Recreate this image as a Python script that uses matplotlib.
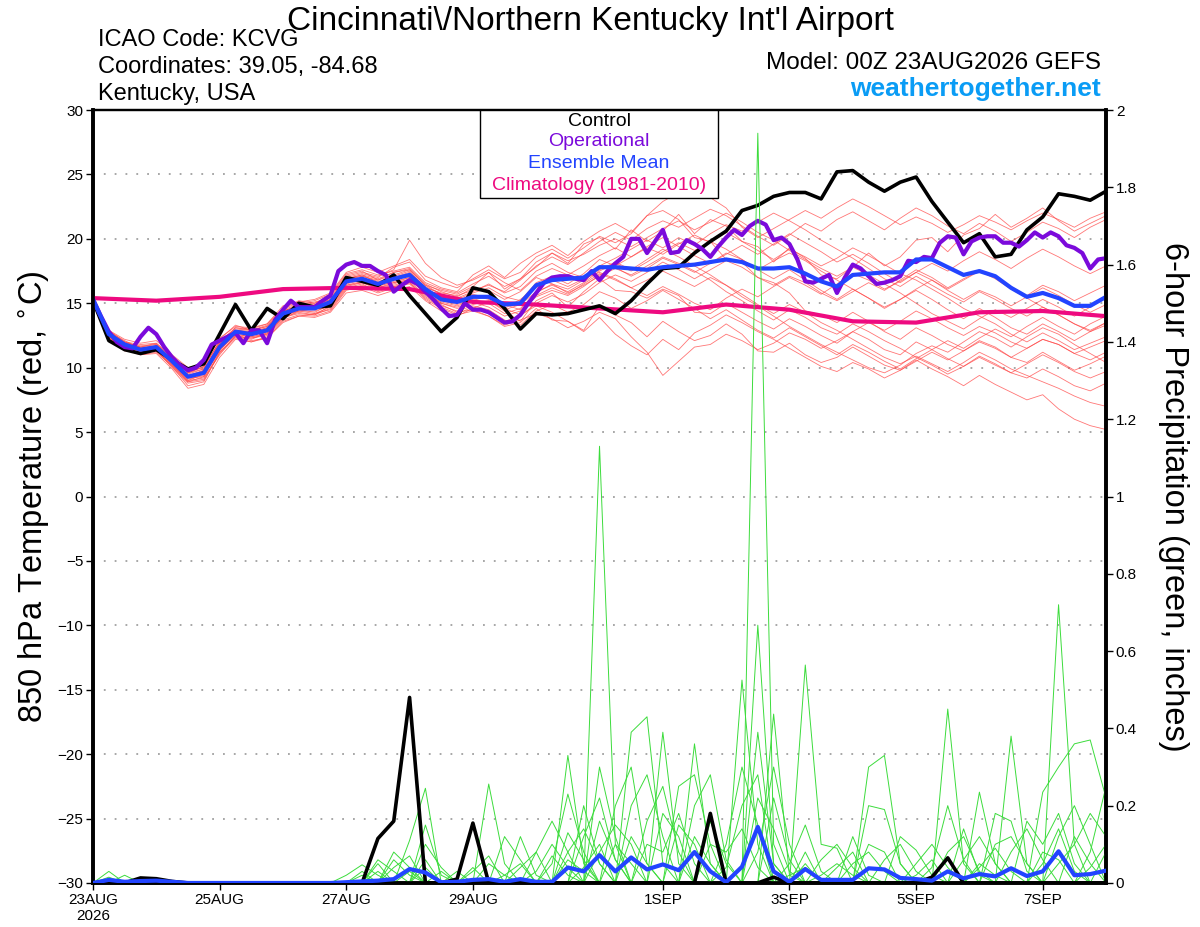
import numpy as np
import matplotlib
matplotlib.use('Agg')
import matplotlib.pyplot as plt
from matplotlib.patches import Rectangle

plt.rcParams['font.family'] = ['Liberation Sans', 'DejaVu Sans']

# ========== Data ==========
HOURS6 = np.arange(0, 385, 6)     # forecast hour, 6-hourly
HOURS3 = np.arange(0, 385, 3)     # operational run is 3-hourly
HOURS24 = np.arange(0, 385, 24)   # climatology, daily

tick_hours = [0, 48, 96, 144, 216, 264, 312, 360]
tick_labels = ['23AUG\n2026', '25AUG', '27AUG', '29AUG', '1SEP', '3SEP', '5SEP', '7SEP']

control_t = [15.2, 12.1, 11.4, 11.1, 11.4, 10.6, 9.9, 10.3, 12.6, 14.9, 12.9, 14.6,
             13.8, 15.0, 14.7, 14.8, 17.0, 16.7, 16.4, 17.2, 15.6, 14.2, 12.8, 13.9,
             16.2, 15.9, 14.6, 13.0, 14.2, 14.1, 14.2, 14.5, 14.8, 14.2, 15.2, 16.5,
             17.7, 17.8, 18.9, 19.8, 20.6, 22.2, 22.6, 23.3, 23.6, 23.6, 23.1, 25.2,
             25.3, 24.4, 23.7, 24.4, 24.8, 22.9, 21.3, 19.7, 20.4, 18.6, 18.8, 20.7,
             21.7, 23.5, 23.3, 23.0, 23.7]

oper_t = [15.3, 14.0, 12.8, 12.0, 11.6, 11.5, 12.4, 13.1,
          12.6, 11.6, 10.8, 10.2, 9.8, 10.0, 10.6, 11.8,
          12.1, 12.4, 12.7, 11.9, 12.9, 12.9, 11.9, 13.7,
          14.5, 15.2, 14.7, 14.7, 14.7, 15.2, 15.6, 17.5,
          18.0, 18.2, 17.9, 17.9, 17.5, 17.2, 15.9, 16.4,
          16.8, 16.5, 15.9, 15.3, 14.6, 14.0, 14.1, 15.0,
          14.5, 14.5, 14.3, 13.9, 13.5, 13.6, 14.1, 15.0,
          15.8, 16.6, 17.0, 17.1, 17.1, 16.9, 16.8, 17.5,
          16.8, 17.5, 18.1, 18.6, 20.0, 20.0, 18.9, 19.8,
          20.7, 18.9, 19.0, 19.9, 19.6, 19.2, 18.6, 19.4,
          20.1, 20.7, 20.3, 21.0, 21.4, 21.1, 19.9, 20.1,
          19.6, 18.4, 16.7, 16.6, 16.9, 17.2, 15.8, 17.0,
          18.0, 17.7, 17.1, 16.5, 16.6, 16.8, 17.1, 18.3,
          18.2, 18.6, 18.5, 19.7, 20.2, 20.1, 18.8, 19.8,
          20.1, 20.2, 20.2, 19.7, 19.7, 19.4, 19.9, 20.5,
          20.1, 20.5, 20.2, 19.5, 19.3, 18.9, 17.7, 18.4,
          18.5]

mean_t = [15.3, 12.6, 11.8, 11.4, 11.6, 10.5, 9.3, 9.6, 11.6, 12.8, 12.6, 12.9,
          14.2, 14.6, 14.6, 15.1, 16.7, 16.9, 16.5, 16.9, 17.2, 16.1, 15.3, 15.1,
          15.5, 15.5, 14.9, 15.0, 16.4, 16.8, 16.9, 17.0, 17.8, 17.8, 17.7, 17.6,
          17.8, 17.9, 18.0, 18.2, 18.4, 18.2, 17.7, 17.7, 17.8, 17.3, 16.7, 16.3,
          17.2, 17.3, 17.4, 17.4, 18.4, 18.4, 17.8, 17.2, 17.5, 17.1, 16.2, 15.5,
          15.8, 15.4, 14.8, 14.8, 15.5]

clim_t = [15.4, 15.2, 15.5, 16.1, 16.2, 16.1, 15.1, 14.9, 14.6, 14.3, 14.9,
          14.5, 13.6, 13.5, 14.3, 14.4, 14.0]

member_t = [
    [15.2, 12.9, 12.0, 11.8, 11.9, 10.9, 9.6, 10.1, 12.0, 13.1, 13.0, 13.4, 14.6, 15.2, 15.0, 15.6,
     17.2, 17.5, 16.8, 17.4, 17.6, 16.4, 16.0, 15.7, 16.3, 17.4, 16.1, 16.9, 17.8, 18.9, 18.1, 19.6,
     20.1, 19.2, 20.7, 19.8, 20.6, 21.9, 20.4, 21.5, 21.0, 19.8, 19.4, 18.2, 19.3, 18.5, 17.2, 16.9,
     17.8, 18.9, 17.9, 18.6, 19.9, 20.1, 19.0, 20.3, 20.8, 21.9, 20.9, 21.6, 22.4, 21.4, 20.6, 21.2, 21.8],
    [15.2, 12.4, 11.5, 11.0, 11.2, 10.1, 8.6, 8.9, 11.2, 12.4, 12.1, 12.3, 13.6, 14.0, 14.2, 14.5,
     16.1, 16.4, 16.0, 16.3, 16.5, 15.3, 14.6, 14.1, 14.4, 14.0, 13.2, 13.5, 14.6, 13.7, 13.6, 12.9,
     14.8, 14.1, 13.5, 12.4, 13.6, 12.8, 12.1, 12.5, 13.4, 12.6, 11.3, 11.2, 11.9, 11.0, 10.4, 10.8,
     11.6, 10.9, 10.2, 9.8, 10.6, 9.9, 9.3, 8.6, 9.4, 8.7, 8.1, 7.5, 7.9, 6.8, 6.0, 5.5, 5.2],
    [15.2, 12.7, 11.9, 11.6, 11.8, 10.6, 9.8, 10.4, 12.2, 13.3, 12.9, 13.2, 14.3, 14.9, 15.1, 15.4,
     17.0, 17.3, 17.0, 17.8, 18.2, 16.8, 16.2, 15.9, 17.2, 17.9, 17.0, 18.1, 18.9, 19.5, 18.7, 19.8,
     20.6, 21.2, 20.5, 21.8, 22.2, 21.5, 20.1, 19.8, 18.4, 18.2, 17.0, 16.6, 15.8, 14.4, 14.1, 13.5,
     14.3, 13.6, 12.8, 12.2, 13.1, 12.5, 11.8, 11.3, 12.1, 11.6, 10.8, 10.4, 11.2, 10.5, 9.8, 10.3, 10.9],
    [15.2, 12.2, 11.3, 11.2, 11.3, 10.2, 9.0, 9.2, 11.0, 12.5, 12.2, 12.7, 13.9, 14.3, 14.1, 14.8,
     16.4, 16.7, 16.2, 16.5, 16.9, 15.9, 15.0, 14.6, 14.9, 15.2, 14.4, 13.6, 15.2, 15.8, 14.7, 15.9,
     16.9, 16.0, 15.9, 15.4, 16.1, 15.6, 14.3, 14.2, 15.0, 14.3, 13.6, 13.0, 13.8, 13.2, 12.5, 11.9,
     12.8, 12.2, 11.4, 11.0, 12.0, 11.4, 10.7, 10.1, 10.9, 10.3, 9.6, 9.2, 9.9, 9.3, 8.6, 8.2, 8.8],
    [15.2, 12.8, 12.1, 11.5, 11.6, 10.4, 9.5, 9.9, 11.8, 12.9, 12.8, 13.1, 14.4, 14.8, 14.9, 15.3,
     16.9, 17.2, 16.6, 17.1, 17.5, 16.2, 15.8, 15.6, 16.0, 16.4, 15.9, 16.8, 17.9, 18.6, 18.0, 18.9,
     19.8, 20.5, 19.9, 20.8, 21.4, 20.9, 21.6, 22.3, 21.8, 21.0, 20.2, 19.5, 20.3, 21.2, 20.6, 21.5,
     22.1, 21.4, 20.7, 21.6, 22.4, 21.8, 21.0, 20.4, 21.2, 20.6, 19.8, 20.5, 21.3, 20.8, 20.1, 20.9, 21.5],
    [15.2, 12.5, 11.7, 11.3, 11.7, 10.3, 9.1, 9.4, 11.4, 12.6, 12.4, 12.6, 14.0, 14.5, 14.3, 14.9,
     16.5, 16.8, 16.3, 16.7, 17.0, 16.1, 15.2, 14.9, 15.3, 15.0, 14.2, 14.6, 15.8, 16.5, 16.1, 16.8,
     17.6, 18.2, 17.6, 18.4, 19.2, 18.6, 17.9, 17.2, 16.4, 15.5, 14.8, 14.0, 13.2, 12.5, 11.8, 11.2,
     10.6, 10.0, 9.6, 10.2, 11.1, 11.7, 11.2, 12.0, 12.8, 12.3, 11.6, 12.4, 13.1, 12.6, 11.8, 11.1, 10.4],
    [15.2, 12.6, 11.8, 11.4, 11.5, 10.6, 9.4, 9.7, 11.7, 12.8, 12.7, 13.0, 14.2, 14.7, 14.5, 15.0,
     16.6, 16.9, 16.4, 16.8, 17.2, 16.0, 15.6, 15.3, 15.8, 16.2, 15.5, 15.2, 16.6, 17.1, 16.5, 17.3,
     18.4, 17.9, 18.6, 19.3, 18.8, 19.6, 20.3, 19.7, 20.5, 19.8, 19.1, 18.4, 19.2, 18.6, 17.9, 18.5,
     19.3, 18.7, 18.0, 17.3, 16.8, 16.1, 15.4, 14.6, 14.0, 13.4, 12.6, 12.0, 12.7, 12.1, 11.4, 11.9, 12.4],
    [15.2, 12.3, 11.6, 11.1, 11.4, 10.0, 8.8, 9.0, 11.1, 12.3, 12.0, 12.4, 13.7, 14.1, 14.0, 14.4,
     16.0, 16.3, 15.8, 16.2, 16.6, 15.5, 14.8, 14.4, 14.8, 14.5, 13.7, 13.3, 14.4, 14.9, 14.3, 14.9,
     15.9, 15.4, 14.6, 15.2, 16.0, 15.3, 14.6, 13.8, 14.5, 13.7, 12.9, 12.3, 13.1, 12.4, 11.7, 11.0,
     11.8, 11.2, 10.5, 9.9, 10.7, 11.4, 12.1, 11.5, 12.3, 13.0, 12.4, 13.2, 13.9, 13.2, 12.6, 13.4, 14.0],
    [15.2, 12.8, 11.9, 11.7, 11.8, 10.8, 9.7, 10.0, 12.1, 13.0, 12.9, 13.3, 14.5, 14.9, 15.0, 15.5,
     17.1, 17.4, 17.1, 17.6, 19.9, 18.1, 17.0, 16.4, 16.8, 17.4, 16.6, 16.0, 17.1, 17.7, 17.2, 17.9,
     18.7, 19.3, 18.6, 19.4, 20.1, 19.4, 18.7, 18.1, 18.9, 18.4, 17.6, 16.9, 17.6, 16.8, 16.0, 15.3,
     16.1, 15.4, 14.6, 15.3, 16.0, 15.3, 14.5, 13.8, 14.6, 13.9, 13.1, 12.6, 13.4, 12.8, 12.1, 12.8, 13.5],
    [15.2, 12.4, 11.6, 11.3, 11.4, 10.4, 9.2, 9.3, 11.3, 12.7, 12.5, 12.8, 14.1, 14.4, 14.6, 15.0,
     16.7, 16.8, 16.4, 16.6, 17.0, 15.7, 15.0, 14.7, 15.1, 14.7, 14.0, 14.4, 15.5, 16.0, 15.6, 16.3,
     17.2, 17.8, 17.1, 17.7, 18.5, 18.0, 17.4, 18.1, 18.8, 19.5, 18.8, 19.6, 20.4, 19.7, 19.0, 18.2,
     18.8, 18.1, 17.3, 16.6, 17.4, 18.1, 17.5, 18.3, 19.0, 18.4, 17.7, 18.5, 19.2, 18.6, 17.9, 17.3, 17.9],
    [15.2, 12.7, 11.8, 11.5, 11.7, 10.5, 9.4, 9.8, 11.9, 12.9, 12.6, 12.9, 14.3, 14.6, 14.8, 15.2,
     16.8, 17.1, 16.7, 17.0, 17.4, 16.3, 15.7, 15.4, 15.9, 16.5, 15.8, 16.3, 17.5, 18.1, 17.4, 17.0,
     17.9, 18.5, 19.2, 19.9, 19.3, 20.1, 19.5, 20.4, 21.1, 20.6, 21.3, 22.0, 21.4, 20.7, 19.9, 19.2,
     18.5, 17.7, 16.9, 16.3, 17.1, 16.4, 15.7, 15.1, 15.9, 15.3, 14.6, 14.0, 14.7, 14.1, 13.4, 12.8, 13.3],
    [15.2, 12.5, 11.7, 11.2, 11.3, 10.1, 8.9, 9.1, 11.2, 12.4, 12.3, 12.6, 13.8, 14.4, 14.2, 14.7,
     16.3, 16.6, 16.1, 16.4, 16.7, 15.6, 14.9, 14.3, 14.5, 14.0, 13.3, 13.7, 14.2, 13.8, 13.1, 13.6,
     14.3, 13.8, 12.4, 11.2, 9.4, 10.5, 11.6, 11.8, 12.6, 12.1, 11.4, 11.9, 12.7, 12.2, 11.5, 12.1,
     12.8, 13.5, 12.9, 13.6, 14.4, 13.8, 13.1, 12.5, 13.2, 12.7, 12.0, 11.5, 12.2, 11.8, 11.1, 11.6, 12.1],
    [15.2, 12.6, 11.9, 11.6, 11.9, 10.7, 9.6, 9.9, 11.8, 13.1, 12.9, 13.2, 14.6, 15.0, 15.2, 15.7,
     17.3, 17.6, 17.2, 17.5, 17.8, 16.6, 16.1, 15.8, 16.5, 17.1, 16.3, 16.9, 18.2, 18.9, 18.3, 18.8,
     19.5, 20.0, 19.4, 20.1, 20.8, 21.4, 20.7, 21.3, 22.0, 21.3, 20.5, 19.9, 19.1, 18.4, 17.7, 17.1,
     17.8, 17.2, 16.5, 15.8, 15.0, 14.2, 13.6, 13.0, 13.8, 14.5, 13.9, 14.6, 15.3, 14.7, 14.0, 14.7, 15.4],
    [15.2, 12.3, 11.4, 11.0, 11.1, 9.9, 8.4, 8.7, 10.8, 12.2, 12.0, 12.3, 13.5, 14.0, 13.9, 14.3,
     15.8, 16.0, 15.6, 16.0, 16.3, 15.2, 14.4, 14.0, 14.6, 15.1, 14.6, 15.3, 16.2, 16.8, 16.3, 16.9,
     17.4, 16.9, 16.2, 16.8, 17.5, 16.9, 16.3, 17.0, 16.4, 15.7, 14.9, 14.2, 14.9, 14.3, 13.5, 12.9,
     12.2, 11.5, 10.8, 10.3, 10.9, 10.3, 9.7, 10.4, 11.2, 10.6, 9.9, 9.4, 8.9, 8.4, 7.8, 7.3, 7.0],
    [15.2, 12.9, 12.2, 11.9, 12.1, 11.0, 10.0, 10.3, 12.3, 13.2, 13.1, 13.4, 14.8, 15.1, 15.3, 15.8,
     17.4, 17.8, 17.4, 17.9, 18.4, 17.1, 16.6, 16.2, 16.9, 17.6, 16.9, 17.4, 18.6, 19.2, 18.5, 19.3,
     20.2, 19.7, 20.4, 21.8, 22.9, 23.6, 24.1, 23.2, 22.4, 20.9, 20.1, 20.8, 21.5, 22.2, 21.6, 22.4,
     23.1, 22.5, 21.8, 21.1, 21.7, 21.2, 20.5, 21.1, 21.8, 21.3, 20.7, 21.4, 22.0, 21.5, 20.9, 21.6, 22.1],
    [15.2, 12.5, 11.6, 11.3, 11.5, 10.3, 9.0, 9.5, 11.5, 12.6, 12.4, 12.7, 14.0, 14.4, 14.4, 14.8,
     16.4, 16.6, 16.2, 16.6, 16.8, 15.8, 15.1, 14.8, 15.2, 15.6, 14.9, 14.5, 15.6, 16.2, 15.7, 16.5,
     17.3, 16.8, 16.2, 15.6, 16.3, 15.7, 15.0, 14.5, 15.4, 16.1, 15.5, 16.3, 17.0, 16.4, 15.7, 16.5,
     17.3, 16.8, 16.1, 16.7, 17.4, 16.8, 16.0, 15.3, 16.0, 15.5, 14.8, 15.5, 16.2, 15.6, 14.9, 14.3, 14.9],
    [15.2, 12.7, 12.0, 11.6, 11.6, 10.7, 9.6, 10.1, 12.0, 12.9, 12.7, 13.1, 14.4, 14.7, 14.8, 15.3,
     16.9, 17.2, 16.9, 17.4, 17.7, 16.5, 15.9, 15.5, 16.2, 16.0, 15.3, 15.9, 17.0, 16.5, 15.8, 16.4,
     17.1, 17.7, 17.2, 17.9, 18.6, 18.1, 17.5, 16.8, 15.9, 15.2, 14.4, 13.7, 14.5, 13.9, 13.1, 12.6,
     13.4, 12.8, 12.1, 11.5, 10.8, 10.2, 9.5, 10.1, 10.8, 10.2, 9.6, 10.3, 11.0, 10.4, 9.7, 9.2, 9.7],
    [15.2, 12.4, 11.5, 11.2, 11.4, 10.2, 8.9, 9.3, 11.4, 12.5, 12.3, 12.5, 13.9, 14.2, 14.1, 14.6,
     16.2, 16.5, 15.9, 16.3, 16.6, 15.4, 14.7, 14.2, 14.7, 14.3, 13.6, 14.0, 15.0, 15.6, 15.1, 15.7,
     16.6, 17.2, 16.7, 17.4, 18.2, 17.6, 16.9, 17.6, 18.3, 17.8, 17.0, 16.4, 17.1, 16.6, 15.8, 15.2,
     15.9, 16.6, 16.0, 16.8, 17.6, 17.0, 16.2, 16.9, 17.5, 16.9, 16.1, 15.4, 14.7, 14.1, 13.4, 12.9, 13.5],
    [15.2, 12.6, 11.7, 11.4, 11.6, 10.4, 9.3, 9.6, 11.6, 12.8, 12.5, 12.8, 14.2, 14.5, 14.7, 15.1,
     16.6, 17.0, 16.5, 16.9, 17.3, 16.1, 15.5, 15.0, 15.6, 15.3, 14.5, 14.9, 15.9, 16.4, 15.9, 16.6,
     17.5, 18.1, 17.5, 18.2, 19.0, 19.7, 19.1, 19.8, 19.2, 18.4, 17.6, 18.3, 18.9, 18.3, 17.5, 16.8,
     16.1, 15.4, 14.7, 15.3, 16.1, 16.8, 16.1, 16.8, 17.5, 17.0, 16.3, 15.6, 16.4, 15.9, 15.2, 15.8, 16.4],
    [15.2, 12.8, 12.0, 11.5, 11.7, 10.6, 9.3, 9.8, 11.9, 12.9, 12.8, 13.0, 14.4, 14.8, 14.7, 15.2,
     16.9, 17.1, 16.8, 17.2, 17.6, 16.4, 15.7, 15.2, 15.7, 15.4, 14.6, 14.1, 14.8, 14.3, 13.6, 12.8,
     13.9, 12.6, 11.7, 11.0, 12.2, 11.4, 12.7, 13.3, 14.1, 13.5, 12.8, 12.2, 11.5, 10.8, 10.1, 9.7,
     10.4, 9.9, 9.2, 9.8, 10.5, 11.2, 10.6, 11.3, 12.0, 11.5, 10.8, 11.5, 12.2, 11.8, 11.1, 10.6, 11.2],
]

# 6-hour precipitation (inches); nonzero amounts keyed by forecast hour
control_p = {18: 0.013, 24: 0.011, 30: 0.004, 108: 0.115, 114: 0.16, 120: 0.48,
             138: 0.01, 144: 0.155, 234: 0.18, 258: 0.015, 318: 0.015, 324: 0.065}

mean_p = {6: 0.008, 12: 0.003, 18: 0.005, 24: 0.006, 30: 0.003, 96: 0.002, 102: 0.004,
          108: 0.006, 114: 0.01, 120: 0.036, 126: 0.027, 132: 0.002, 138: 0.003,
          144: 0.008, 150: 0.01, 156: 0.003, 162: 0.01, 168: 0.003, 174: 0.003,
          180: 0.04, 186: 0.03, 192: 0.072, 198: 0.03, 204: 0.066, 210: 0.035,
          216: 0.048, 222: 0.033, 228: 0.08, 234: 0.03, 240: 0.002, 246: 0.042,
          252: 0.145, 258: 0.03, 264: 0.003, 270: 0.036, 276: 0.008, 282: 0.008,
          288: 0.008, 294: 0.038, 300: 0.035, 306: 0.013, 312: 0.01, 318: 0.006,
          324: 0.03, 330: 0.012, 336: 0.023, 342: 0.017, 348: 0.038, 354: 0.018,
          360: 0.03, 366: 0.082, 372: 0.02, 378: 0.023, 384: 0.032}

member_p = [
    {6: 0.03, 120: 0.11, 126: 0.245, 192: 1.13, 198: 0.1, 270: 0.05, 324: 0.45, 330: 0.05},
    {102: 0.03, 114: 0.06, 120: 0.02, 150: 0.256, 156: 0.05, 252: 1.94, 258: 0.1, 366: 0.72, 372: 0.1},
    {108: 0.05, 126: 0.15, 132: 0.02, 180: 0.33, 186: 0.05, 246: 0.525, 252: 0.1, 294: 0.30,
     300: 0.33, 306: 0.05},
    {96: 0.02, 102: 0.047, 108: 0.02, 162: 0.12, 168: 0.02, 204: 0.39, 210: 0.43, 216: 0.05,
     252: 0.667, 258: 0.05, 348: 0.38, 354: 0.05},
    {114: 0.08, 120: 0.04, 186: 0.2, 192: 0.05, 216: 0.39, 222: 0.05, 258: 0.437, 264: 0.02,
     360: 0.235, 366: 0.30, 372: 0.36, 378: 0.37, 384: 0.22},
    {12: 0.02, 108: 0.03, 144: 0.03, 150: 0.07, 198: 0.2, 204: 0.3, 210: 0.05, 270: 0.564,
     276: 0.1, 282: 0.09, 336: 0.235, 342: 0.05},
    {126: 0.06, 174: 0.05, 180: 0.23, 186: 0.08, 228: 0.36, 234: 0.05, 252: 0.39, 258: 0.05,
     294: 0.2, 300: 0.19, 306: 0.05, 342: 0.18, 348: 0.16, 354: 0.03},
    {102: 0.02, 168: 0.08, 174: 0.16, 180: 0.08, 222: 0.25, 228: 0.28, 234: 0.1, 288: 0.12,
     294: 0.02, 330: 0.14, 336: 0.02, 378: 0.08, 384: 0.25},
    {144: 0.04, 156: 0.12, 162: 0.06, 192: 0.16, 198: 0.06, 216: 0.18, 222: 0.12, 240: 0.04,
     246: 0.2, 252: 0.28, 306: 0.12, 312: 0.085, 318: 0.02, 354: 0.16, 360: 0.1, 366: 0.18, 372: 0.05},
    {6: 0.015, 180: 0.13, 186: 0.06, 204: 0.2, 210: 0.28, 216: 0.12, 264: 0.05, 270: 0.15,
     276: 0.03, 318: 0.04, 324: 0.2, 330: 0.06, 366: 0.12, 372: 0.2, 378: 0.1},
    {114: 0.04, 120: 0.07, 138: 0.03, 186: 0.12, 192: 0.22, 198: 0.06, 234: 0.16, 240: 0.05,
     282: 0.04, 288: 0.08, 342: 0.1, 348: 0.12, 354: 0.05},
    {126: 0.1, 132: 0.04, 168: 0.03, 174: 0.1, 180: 0.04, 210: 0.16, 216: 0.25, 222: 0.08,
     252: 0.22, 258: 0.14, 264: 0.03, 300: 0.06, 306: 0.1, 312: 0.03, 360: 0.05, 366: 0.14,
     372: 0.03, 384: 0.08},
    {108: 0.06, 114: 0.03, 192: 0.08, 198: 0.15, 204: 0.1, 228: 0.2, 234: 0.28, 240: 0.06,
     276: 0.06, 282: 0.1, 288: 0.04, 336: 0.04, 342: 0.09, 348: 0.03},
    {120: 0.03, 156: 0.02, 162: 0.05, 186: 0.04, 192: 0.1, 222: 0.15, 228: 0.1, 258: 0.22,
     264: 0.06, 312: 0.05, 318: 0.1, 324: 0.04, 372: 0.12, 378: 0.05},
    {132: 0.03, 180: 0.08, 186: 0.14, 192: 0.05, 240: 0.1, 246: 0.3, 252: 0.15, 270: 0.08,
     330: 0.06, 336: 0.12, 342: 0.05},
    {150: 0.05, 156: 0.02, 198: 0.1, 204: 0.05, 252: 0.08, 258: 0.3, 264: 0.1, 294: 0.1,
     300: 0.08, 348: 0.08, 354: 0.14, 360: 0.06},
    {174: 0.07, 180: 0.02, 210: 0.1, 216: 0.08, 222: 0.18, 228: 0.05, 288: 0.05, 294: 0.08,
     300: 0.03, 366: 0.05, 372: 0.1, 378: 0.18, 384: 0.12},
    {204: 0.12, 210: 0.05, 234: 0.1, 240: 0.08, 246: 0.14, 252: 0.04, 324: 0.08, 330: 0.12, 336: 0.03},
    {126: 0.04, 162: 0.04, 168: 0.08, 192: 0.3, 198: 0.12, 264: 0.02, 270: 0.04, 312: 0.02,
     318: 0.06, 360: 0.08, 366: 0.06},
    {18: 0.01, 180: 0.06, 186: 0.03, 228: 0.12, 234: 0.05, 276: 0.02, 282: 0.05, 288: 0.02,
     336: 0.05, 342: 0.02, 378: 0.04, 384: 0.1},
]

legend_names = ['Control', 'Operational', 'Ensemble Mean', 'Climatology (1981-2010)']
legend_colors = ['black', '#7b0adb', '#2244ff', '#ee0a80']


def full_series(amounts):
    """6-hourly series from the nonzero amounts, zero elsewhere"""
    vals = np.zeros(len(HOURS6))
    for h, v in amounts.items():
        vals[h // 6] = v
    return vals


# ========== Plot ==========
fig = plt.figure(figsize=(12, 9.27), dpi=100)
ax = fig.add_axes([0.0775, 0.0475, 0.8442, 0.8338])
ax2 = ax.twinx()

for m in member_t:
    ax.plot(HOURS6, m, color='#ff4848', lw=0.6, alpha=0.75, zorder=2)
ax.plot(HOURS24, clim_t, color='#ee0a80', lw=3, zorder=3)
ax.plot(HOURS6, control_t, color='black', lw=2.6, zorder=4)
ax.plot(HOURS3, oper_t, color='#7b0adb', lw=3, zorder=5)
ax.plot(HOURS6, mean_t, color='#2244ff', lw=3, zorder=6)

for m in member_p:
    ax2.plot(HOURS6, full_series(m), color='#3cdc3c', lw=0.7, zorder=2)
ax2.plot(HOURS6, full_series(control_p), color='black', lw=2.6, zorder=4)
ax2.plot(HOURS6, full_series(mean_p), color='#2244ff', lw=3, zorder=5)

# Limits
ax.set_xlim(0, 384)
ax.set_ylim(-30, 30)
ax2.set_ylim(0, 2)

# Ticks
ax.set_xticks(tick_hours)
ax.set_xticklabels(tick_labels)
ax.set_yticks(np.arange(-30, 31, 5))
ax2.set_yticks(np.arange(0, 2.01, 0.2))
ax2.set_yticklabels(['0', '0.2', '0.4', '0.6', '0.8', '1', '1.2', '1.4', '1.6', '1.8', '2'])
ax.tick_params(which='major', direction='out', length=5, width=1, labelsize=11, pad=2)
ax2.tick_params(which='major', direction='out', length=5, width=1, labelsize=11, pad=2)

# Dotted grid
for yv in np.arange(-25, 26, 5):
    ax.axhline(yv, color='#a0a0a0', lw=1.3, ls=(0, (1, 5)), zorder=1)

# Spines
for a in (ax, ax2):
    for side in ('left', 'right', 'bottom'):
        a.spines[side].set_linewidth(2.6)
    a.spines['top'].set_linewidth(1.6)

# Axis labels
ax.set_ylabel('850 hPa Temperature (red, $^{\\circ}$C)', fontsize=23.5)
ax.yaxis.set_label_coords(-0.040, 0.5)
ax2.set_ylabel('6-hour Precipitation (green, inches)', fontsize=23.5, rotation=-90, va='bottom')
ax2.yaxis.set_label_coords(1.051, 0.5)

# Legend box with coloured names
ax2.add_patch(Rectangle((0.382, 0.886), 0.235, 0.114, transform=ax2.transAxes,
                        facecolor='white', edgecolor='black', lw=1.0, zorder=10))
for name, c, yy in zip(legend_names, legend_colors, [0.9858, 0.9599, 0.9314, 0.903]):
    ax2.text(0.4995, yy, name, color=c, fontsize=14, ha='center', va='center',
             transform=ax2.transAxes, zorder=11)

# Header text
fig.text(0.492, 0.994, "Cincinnati\\/Northern Kentucky Int'l Airport", ha='center', va='top', fontsize=24)
fig.text(0.0817, 0.957, 'ICAO Code: KCVG', ha='left', va='center', fontsize=17)
fig.text(0.0817, 0.928, 'Coordinates: 39.05, -84.68', ha='left', va='center', fontsize=17)
fig.text(0.0817, 0.8985, 'Kentucky, USA', ha='left', va='center', fontsize=17)
fig.text(0.9175, 0.932, 'Model: 00Z 23AUG2026 GEFS', ha='right', va='center', fontsize=17.5)
fig.text(0.9175, 0.904, 'weathertogether.net', ha='right', va='center', fontsize=19,
         fontweight='bold', color='#0a9cf5')

fig.savefig('out.png', dpi=100)
